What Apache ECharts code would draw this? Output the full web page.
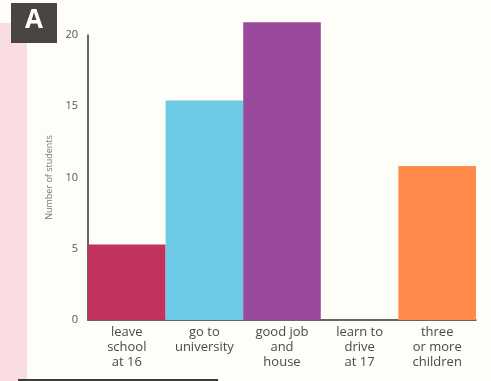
<!DOCTYPE html>
<html>
<head>
<meta charset="utf-8">
<script src="https://cdn.jsdelivr.net/npm/echarts@6/dist/echarts.min.js"></script>
<style>
	html, body { margin: 0; padding: 0; background: #fffdf7; }
	#chart { width: 491px; height: 381px; }
</style>
</head>
<body>
<div id="chart"></div>
<script>
var categories = ['leave\nschool\nat 16', 'go to\nuniversity', 'good job\nand\nhouse', 'learn to\ndrive\nat 17', 'three\nor more\nchildren']
var students = [5.3, 15.4, 20.9, 0, 10.8]
var barColors = ['#c3325e', '#6ecbe6', '#9a4a9c', '#ffffff', '#ff8a4a']
var yTicks = [0, 5, 10, 15, 20]

var chart = echarts.init(document.getElementById('chart'))

chart.setOption({
	backgroundColor: '#fffdf7',
	animation: false,
	textStyle: {fontFamily: '"Open Sans", "DejaVu Sans", sans-serif'},
	graphic: [
		// pink page margin on the left
		{type: 'rect', left: 0, top: 23, shape: {width: 27, height: 358}, style: {fill: '#fadde1'}, z: -1},
		// "A" box
		{type: 'rect', left: 11, top: 3, shape: {width: 46, height: 40}, style: {fill: '#4a4442'}},
		{type: 'text', left: 25, top: 8, style: {text: 'A', fill: '#ffffff', font: 'bold 26px "Open Sans", sans-serif'}},
		// page edge at the bottom
		{type: 'rect', left: 18, top: 379, shape: {width: 200, height: 2}, style: {fill: '#3a3a3a'}}
	],
	grid: {left: 88, right: 15, top: 35, bottom: 61},
	xAxis: {
		type: 'category',
		data: categories,
		axisLine: {show: true, lineStyle: {color: '#333', width: 1.5}},
		axisTick: {show: false},
		axisLabel: {
			color: '#4a4a4a',
			fontSize: 13,
			lineHeight: 15,
			margin: 5,
			interval: 0
		}
	},
	yAxis: {
		type: 'value',
		min: yTicks[0],
		max: yTicks[yTicks.length - 1],
		interval: 5,
		name: 'Number of students',
		nameLocation: 'middle',
		nameGap: 34,
		nameTextStyle: {color: '#777', fontSize: 9},
		axisLine: {show: true, lineStyle: {color: '#333', width: 1.5}},
		axisTick: {show: false},
		splitLine: {show: false},
		axisLabel: {color: '#555', fontSize: 11, margin: 10}
	},
	series: [{
		type: 'bar',
		data: students.map(function (v, i) {
			return {value: v, itemStyle: {color: barColors[i]}}
		}),
		barCategoryGap: '0%',
		clip: false
	}]
})
</script>
</body>
</html>
